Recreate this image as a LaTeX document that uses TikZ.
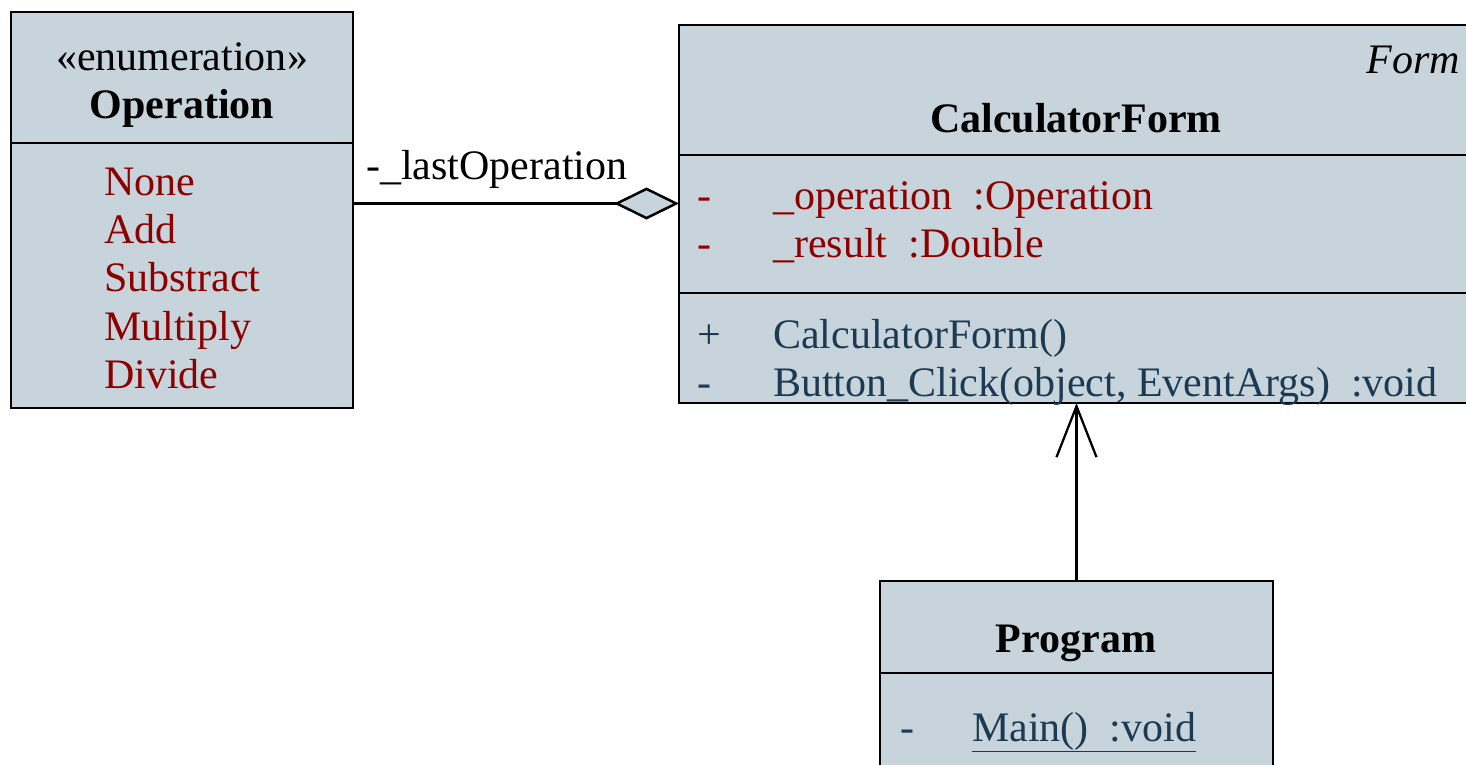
\documentclass[tikz,border=0pt]{standalone}
\usepackage{fontspec}
\setmainfont{Liberation Serif}
\usetikzlibrary{arrows.meta,positioning}
\definecolor{umlfill}{RGB}{199,212,220}
\definecolor{attrred}{RGB}{140,0,0}
\definecolor{opblue}{RGB}{28,58,82}
\tikzset{
  compart/.style={draw,fill=umlfill,line width=2.6pt,anchor=north west,inner sep=0pt,outer sep=0pt},
  txt/.style={anchor=base west,inner sep=0pt,font=\fontsize{42}{48}\selectfont},
  nametxt/.style={txt,anchor=base,font=\fontsize{42}{48}\selectfont\bfseries},
  aggline/.style={line width=2.5pt,-{Diamond[length=65pt,width=32pt,fill=umlfill]}},
  genline/.style={line width=2.3pt,-{Straight Barb[length=51pt,width=40pt]}}
}
\begin{document}
\begin{tikzpicture}[x=1pt,y=-1pt]
\path[use as bounding box,fill=white] (0,0) rectangle (1466,765);
% enumeration
\node[compart,minimum width=342pt,minimum height=131pt] (opHead) at (11,12) {};
\node[compart,minimum width=342pt,minimum height=265pt] (opBody) at (opHead.south west) {};
\node[txt,anchor=base] (opStereo) at (182,71) {«enumeration»};
\node[nametxt] (opName) at (182,119) {Operation};
\foreach \lit [count=\i] in {None,Add,Substract,Multiply,Divide}
  \node[txt,attrred] (lit\i) at (104,{195+48.4*(\i-1)}) {\lit};
% form class
\node[compart,minimum width=794pt,minimum height=130pt] (cfHead) at (679,25) {};
\node[compart,minimum width=794pt,minimum height=138pt] (cfAttr) at (cfHead.south west) {};
\node[compart,minimum width=794pt,minimum height=110pt] (cfOps) at (cfAttr.south west) {};
\node[txt,anchor=base east,font=\fontsize{42}{48}\selectfont\itshape] (cfBase) at (1460,74) {Form};
\node[nametxt] (cfName) at (1076,132) {CalculatorForm};
\node[txt,attrred] (visOp) at (697,209) {-};
\node[txt,attrred] (attrOp) at (773,209) {\_operation\ \ :Operation};
\node[txt,attrred] (visRes) at (697,257) {-};
\node[txt,attrred] (attrRes) at (773,257) {\_result\ \ :Double};
\node[txt,opblue] (visCtor) at (697,348) {+};
\node[txt,opblue] (opCtor) at (773,348) {CalculatorForm()};
\node[txt,opblue] (visClick) at (697,396) {-};
\node[txt,opblue] (opClick) at (773,396) {Button\_Click(object, EventArgs)\ \ :void};
% program
\node[compart,minimum width=393pt,minimum height=92pt] (progHead) at (880,581) {};
\node[compart,minimum width=393pt,minimum height=150pt] (progBody) at (progHead.south west) {};
\node[nametxt] (progName) at (1076,652) {Program};
\node[txt,opblue] (visMain) at (900,741) {-};
\node[txt,opblue] (opMain) at (972,741) {\underline{Main()\ \ :void}};
% relations
\coordinate (aggY) at (0,203.5);
\draw[aggline] (opBody.east |- aggY) -- (cfAttr.west |- aggY);
\node[txt] (lastOp) at (366,179) {-\_lastOperation};
\draw[genline] (progHead.north) -- (progHead.north |- cfOps.south);
\end{tikzpicture}
\end{document}
